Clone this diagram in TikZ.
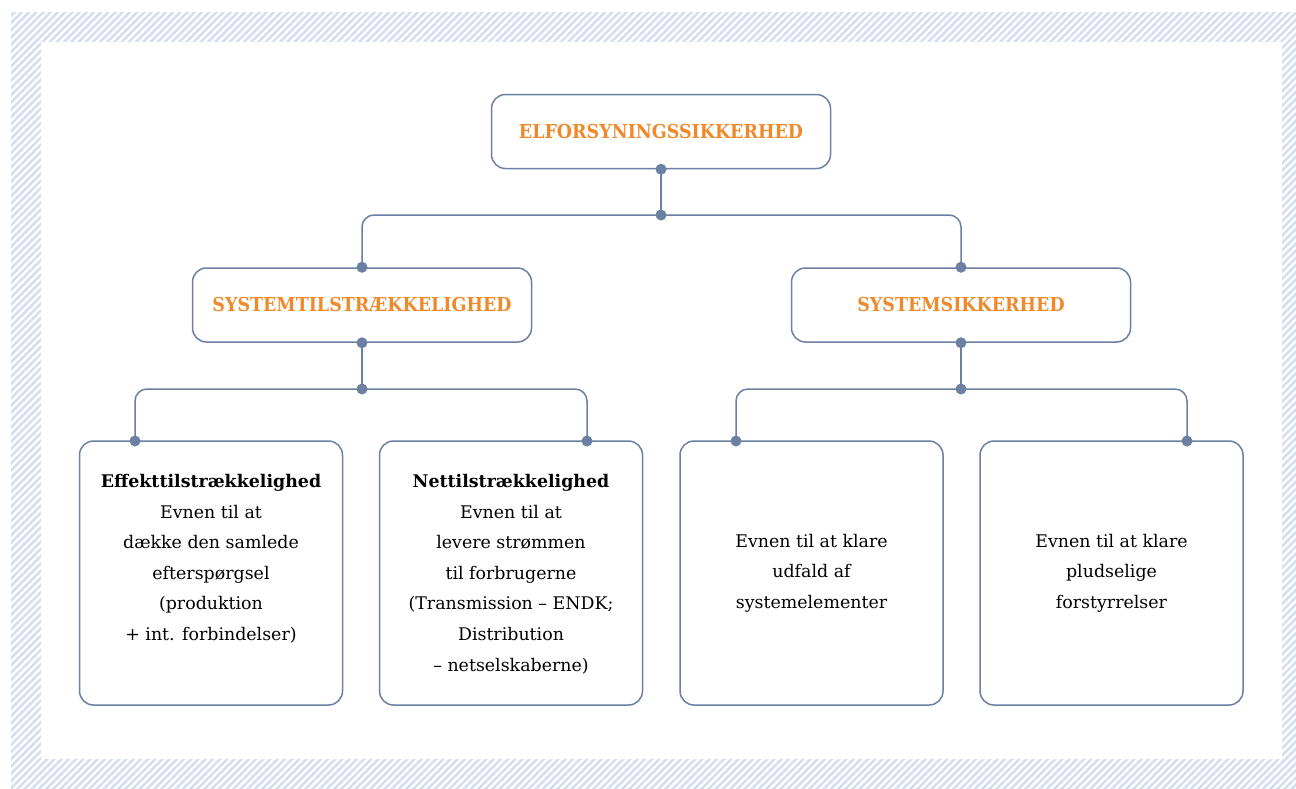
\documentclass[tikz,border=0pt]{standalone}
\usepackage{fontspec}
\setmainfont{DejaVu Serif}
\newfontfamily\headfont[FakeStretch=0.91]{DejaVu Serif}
\definecolor{hatchc}{HTML}{D5DFF0}
\definecolor{framec}{HTML}{6B80A3}
\definecolor{orng}{HTML}{F0892A}
\tikzset{
  box/.style={draw=framec, line width=1.5pt, rounded corners=14pt, fill=white, inner sep=0pt},
  headbox/.style={box, minimum width=339pt, minimum height=74pt, align=center,
    font=\headfont\fontsize{19.2}{22}\selectfont\bfseries, text=orng},
  leafbox/.style={box, minimum width=263pt, minimum height=264pt},
  leaftext/.style={inner sep=0pt, align=center, font=\fontsize{17.4}{30.6}\selectfont},
  conn/.style={draw=framec, line width=1.5pt, rounded corners=12pt},
  dotc/.style={fill=framec},
}
\begin{document}
\begin{tikzpicture}[x=1pt,y=-1pt]
\useasboundingbox (0,0) rectangle (1296,788);
% hatched frame
\begin{scope}
  \clip (11,12) rectangle (1296,788);
  \foreach \i in {0,...,300} {
    \draw[hatchc, line width=2.6pt] ({-790+7.2*\i},790) -- ({-12+7.2*\i},10);
  }
\end{scope}
\fill[white] (41,42) rectangle (1282,759);

% coordinates of junctions
\coordinate (j1) at (661,215);
\coordinate (j2) at (362,389);
\coordinate (j3) at (961,389);
\coordinate (l1t) at (135,441);
\coordinate (l2t) at (587,441);
\coordinate (l3t) at (736,441);
\coordinate (l4t) at (1187,441);

% boxes
\node[headbox] (top) at (661,131.5) {ELFORSYNINGSSIKKERHED};
\node[headbox] (sa) at (362,305) {SYSTEMTILSTRÆKKELIGHED};
\node[headbox] (ss) at (961,305) {SYSTEMSIKKERHED};
\node[leafbox] (l1) at (211,573) {};
\node[leafbox] (l2) at (511,573) {};
\node[leafbox] (l3) at (811.5,573) {};
\node[leafbox] (l4) at (1111.5,573) {};

% connectors
\draw[conn] (top.south) -- (j1);
\draw[conn] (j1) -| (sa.north);
\draw[conn] (j1) -| (ss.north);
\draw[conn] (sa.south) -- (j2);
\draw[conn] (j2) -| (l1t);
\draw[conn] (j2) -| (l2t);
\draw[conn] (ss.south) -- (j3);
\draw[conn] (j3) -| (l3t);
\draw[conn] (j3) -| (l4t);

% dots
\foreach \p in {top.south, j1, sa.north, ss.north, sa.south, j2, ss.south, j3, l1t, l2t, l3t, l4t}
  \fill[dotc] (\p) circle[radius=5.5pt];

% texts
\node[leaftext, anchor=north] (t1) at (211,474)
  {\textbf{Effekttilstrækkelighed}\\Evnen til at\\dække den samlede\\efterspørgsel\\(produktion\\+ int. forbindelser)};
\node[leaftext, anchor=north] (t2) at (511,474)
  {\textbf{Nettilstrækkelighed}\\Evnen til at\\levere strømmen\\til forbrugerne\\(Transmission – ENDK;\\Distribution\\– netselskaberne)};
\node[leaftext] (t3) at (811.5,573)
  {Evnen til at klare\\udfald af\\systemelementer};
\node[leaftext] (t4) at (1111.5,573)
  {Evnen til at klare\\pludselige\\forstyrrelser};
\end{tikzpicture}
\end{document}
